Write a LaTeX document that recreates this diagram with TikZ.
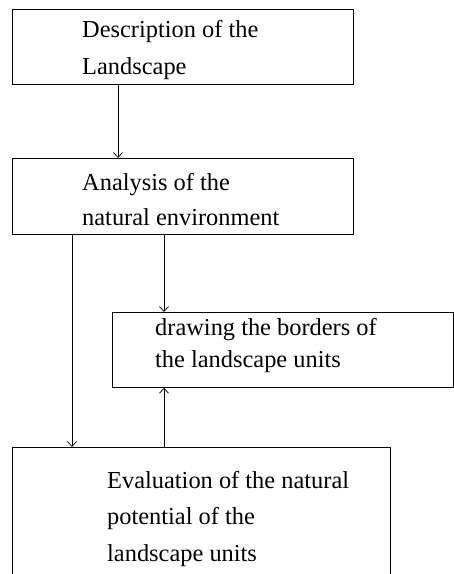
\documentclass[tikz,border=0pt]{standalone}
\usepackage{fontspec}
\setmainfont{Liberation Serif}
\usetikzlibrary{arrows.meta}
\begin{document}
\begin{tikzpicture}[x=1pt,y=-1pt,
  box/.style={draw, line width=0.7pt, inner sep=0pt, anchor=north west},
  txt/.style={anchor=base west, inner sep=0pt,
    font=\fontsize{24.4}{30}\selectfont},
  arr/.style={line width=0.7pt, -{Straight Barb[length=5pt,width=9pt]}}]
\useasboundingbox (0,0) rectangle (454,574);
\begin{scope}
\clip (0,0) rectangle (454,574);
% process boxes
\node[box, minimum width=341pt, minimum height=75pt] (desc) at (12,9) {};
\node[box, minimum width=341pt, minimum height=76pt] (anal) at (12,158) {};
\node[box, minimum width=341pt, minimum height=75pt] (bord) at (112,312) {};
\node[box, minimum width=378pt, minimum height=150pt] (eval) at (12,447) {};
\end{scope}
% box texts, one node per line
\node[txt] (desc1) at (82,37) {Description of the};
\node[txt] (desc2) at (82,74) {Landscape};
\node[txt] (anal1) at (82,190) {Analysis of the};
\node[txt] (anal2) at (82,225) {natural environment};
\node[txt] (bord1) at (155,335) {drawing the borders of};
\node[txt] (bord2) at (155,367) {the landscape units};
\node[txt] (eval1) at (107,488) {Evaluation of the natural};
\node[txt] (eval2) at (107,524) {potential of the};
\node[txt] (eval3) at (107,561) {landscape units};
% connectors
\draw[arr] ([xshift=106pt]desc.south west) -- ([xshift=106pt]anal.north west);
\draw[arr] ([xshift=60pt]anal.south west) -- ([xshift=60pt]eval.north west);
\draw[arr] ([xshift=152pt]anal.south west) -- ([xshift=52pt]bord.north west);
\draw[arr] ([xshift=152pt]eval.north west) -- ([xshift=52pt]bord.south west);
\end{tikzpicture}
\end{document}
